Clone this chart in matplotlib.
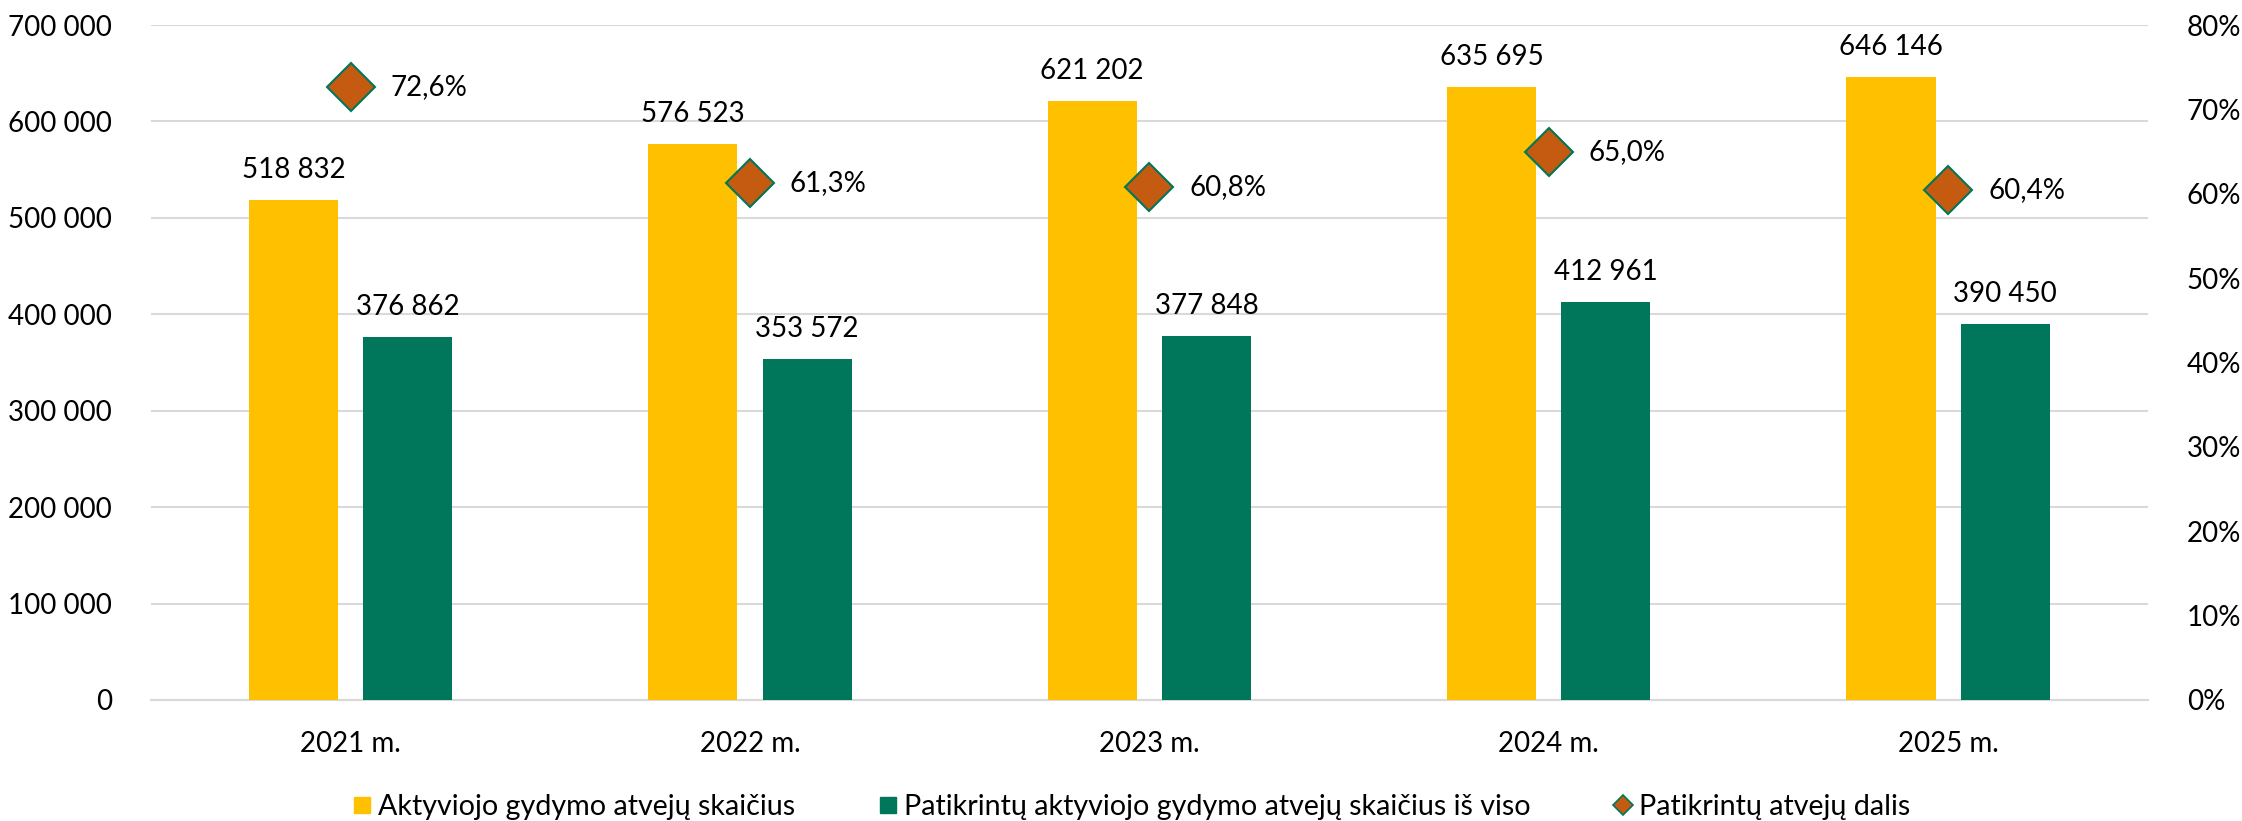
import numpy as np
import matplotlib.pyplot as plt
from matplotlib.lines import Line2D

# chart data
years = ['2021 m.', '2022 m.', '2023 m.', '2024 m.', '2025 m.']
active_cases = [518832, 576523, 621202, 635695, 646146]
checked_cases = [376862, 353572, 377848, 412961, 390450]
checked_share = [72.6, 61.3, 60.8, 65.0, 60.4]

yellow = '#FFC000'
green = '#00765A'
orange = '#C55A11'
grid_col = '#D9D9D9'

plt.rcParams['font.family'] = ['Lato', 'DejaVu Sans']


def fmt_num(v):
    return f"{v:,}".replace(",", " ")


fig = plt.figure(figsize=(22.42, 8.21), dpi=100)
ax = fig.add_axes([0.0673, 0.1474, 0.8907, 0.8221])
ax2 = ax.twinx()

x = np.arange(len(years))
w = 0.223
off = 0.143

ax.bar(x - off, active_cases, w, color=yellow, zorder=3)
ax.bar(x + off, checked_cases, w, color=green, zorder=3)

for xi, v in zip(x, active_cases):
    ax.annotate(fmt_num(v), (xi - off, v), xytext=(0, 30), textcoords='offset pixels',
                ha='center', va='center', fontsize=20)
for xi, v in zip(x, checked_cases):
    ax.annotate(fmt_num(v), (xi + off, v), xytext=(0, 30), textcoords='offset pixels',
                ha='center', va='center', fontsize=20)

ax2.plot(x, checked_share, linestyle='none', marker='D', markersize=24,
         markerfacecolor=orange, markeredgecolor=green, markeredgewidth=1.5, zorder=4)
for xi, v in zip(x, checked_share):
    ax2.annotate(f"{v:.1f}%".replace(".", ","), (xi, v), xytext=(40, 0),
                 textcoords='offset pixels', ha='left', va='center', fontsize=20)

ax.set_xlim(-0.5, len(years) - 0.5)
ax.set_ylim(0, 700000)
ax.set_yticks(np.arange(0, 700001, 100000))
ax.set_yticklabels([fmt_num(t) for t in range(0, 700001, 100000)])
ax2.set_ylim(0, 80)
ax2.set_yticks(np.arange(0, 81, 10))
ax2.set_yticklabels([f"{t}%" for t in range(0, 81, 10)])

ax.set_xticks(x)
ax.set_xticklabels(years)

ax.grid(axis='y', color=grid_col, linewidth=1.5, zorder=0)
ax.set_axisbelow(True)
for a in (ax, ax2):
    for s in a.spines.values():
        s.set_visible(False)
    a.tick_params(length=0, labelsize=20)
ax.tick_params(axis='y', pad=28)
ax.tick_params(axis='x', pad=22)
ax2.tick_params(axis='y', pad=28)
ax.spines['bottom'].set_visible(True)
ax.spines['bottom'].set_color(grid_col)
ax.spines['bottom'].set_linewidth(1.5)

handles = [
    Line2D([], [], linestyle='none', marker='s', markersize=12.2, color=yellow),
    Line2D([], [], linestyle='none', marker='s', markersize=12.2, color=green),
    Line2D([], [], linestyle='none', marker='D', markersize=10.2,
           markerfacecolor=orange, markeredgecolor=green, markeredgewidth=1.2),
]
labels = ['Aktyviojo gydymo atvejų skaičius',
          'Patikrintų aktyviojo gydymo atvejų skaičius iš viso',
          'Patikrintų atvejų dalis']
fig.legend(handles, labels, loc='center', bbox_to_anchor=(0.5038, 0.017), ncol=3,
           frameon=False, fontsize=20.6, handlelength=0.9, handletextpad=0.11,
           columnspacing=2.79)

fig.savefig('out.png', dpi=100)
